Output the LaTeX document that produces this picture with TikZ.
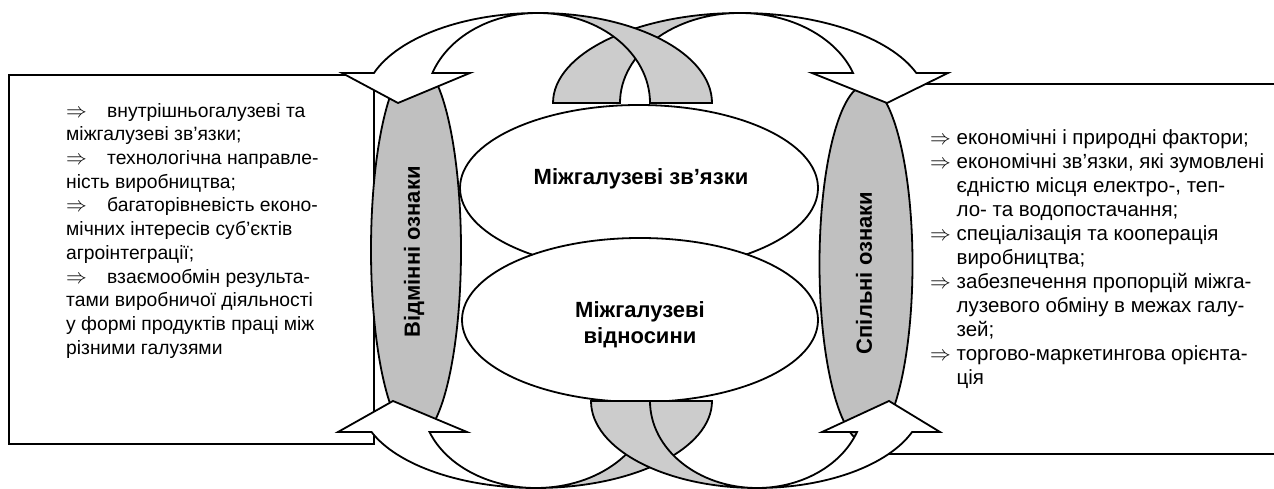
\documentclass[tikz,border=0pt]{standalone}
\usepackage{fontspec}
\setmainfont{Liberation Sans}
\usetikzlibrary{shapes.geometric}
\definecolor{ellgray}{RGB}{192,192,192}
\definecolor{bandgray}{RGB}{204,204,204}
\newcommand{\arrowtab}{\makebox[41pt][l]{$\Rightarrow$}}
\newcommand{\hangtab}{\hphantom{$\Rightarrow$}\ }
\begin{document}
\begin{tikzpicture}[x=1pt,y=1pt,
  outline/.style={draw=black,line width=1.8pt,line join=miter},
  boxframe/.style={outline,fill=white,rectangle,inner sep=0pt},
  mainell/.style={outline,fill=white,ellipse,inner sep=0pt},
  sideell/.style={outline,fill=ellgray,ellipse,inner sep=0pt},
  backface/.style={outline,fill=bandgray},
  frontface/.style={outline,fill=white},
  bodytext/.style={inner sep=0pt,align=left,anchor=north west},
  boldtext/.style={font=\bfseries\fontsize{22}{26}\selectfont,inner sep=0pt,align=center}]
\useasboundingbox (0,0) rectangle (1274,489);

% frames
\node[boxframe,minimum width=365pt,minimum height=369pt,anchor=south west] (leftbox) at (8,44) {};
\node[boxframe,minimum width=434pt,minimum height=370pt,anchor=south west] (rightbox) at (866,34) {};

% central ellipses
\node[mainell,minimum width=358pt,minimum height=166pt] (links) at (639,301) {};
\node[mainell,minimum width=356pt,minimum height=164pt] (rel) at (640,169) {};

% side ellipses
\node[sideell,minimum width=90pt,minimum height=376pt] (dist) at (416,239) {};
\node[sideell,minimum width=93pt,minimum height=358pt] (common) at (866,225) {};

% back faces (top: B under A; bottom: C under D)
\path[backface] (553,386) arc[start angle=180,end angle=90,x radius=187,y radius=90]
   arc[start angle=90,end angle=180,x radius=120,y radius=90] -- cycle;
\path[backface] (712,386) arc[start angle=0,end angle=90,x radius=174,y radius=90]
   arc[start angle=90,end angle=0,x radius=112,y radius=90] -- cycle;
\path[backface] (712,88) arc[start angle=0,end angle=-90,x radius=176,y radius=87]
   arc[start angle=-90,end angle=0,x radius=114,y radius=87] -- cycle;
\path[backface] (591,88) arc[start angle=180,end angle=270,x radius=166,y radius=87]
   arc[start angle=270,end angle=180,x radius=107,y radius=87] -- cycle;

% front faces with heads
\path[frontface] (538,476) arc[start angle=90,end angle=160.53,x radius=174,y radius=90]
   -- (342,416) -- (398,386) -- (470,416) -- (432.4,416)
   arc[start angle=160.53,end angle=90,x radius=112,y radius=90] -- cycle;
\path[frontface] (740,476) arc[start angle=90,end angle=19.47,x radius=187,y radius=90]
   -- (948,416) -- (887,386) -- (812,416) -- (853.1,416)
   arc[start angle=19.47,end angle=90,x radius=120,y radius=90] -- cycle;
\path[frontface] (536,1) arc[start angle=270,end angle=200.87,x radius=176,y radius=87]
   -- (338,57) -- (393,88) -- (467,57) -- (429.5,57)
   arc[start angle=200.87,end angle=270,x radius=114,y radius=87] -- cycle;
\path[frontface] (757,1) arc[start angle=-90,end angle=-20.87,x radius=166,y radius=87]
   -- (940,57) -- (889,88) -- (822,57) -- (857,57)
   arc[start angle=-20.87,end angle=-90,x radius=107,y radius=87] -- cycle;

% labels
\node[boldtext] (linkstext) at (641,310) {Міжгалузеві зв’язки};
\node[boldtext] (reltext) at (640,164) {Міжгалузеві\\відносини};
\node[boldtext,rotate=90] (disttext) at (414,237) {Відмінні ознаки};
\node[boldtext,rotate=90] (commontext) at (864,216) {Спільні ознаки};

\node[bodytext,font=\fontsize{19.3}{23.7}\selectfont] (lefttext) at (66,386) {%
\arrowtab внутрішньогалузеві та\\
міжгалузеві зв’язки;\\
\arrowtab технологічна направле-\\
ність виробництва;\\
\arrowtab багаторівневість еконо-\\
мічних інтересів суб’єктів\\
агроінтеграції;\\
\arrowtab взаємообмін результа-\\
тами виробничої діяльності\\
у формі продуктів праці між\\
різними галузями};

\node[bodytext,font=\fontsize{20.5}{24}\selectfont] (righttext) at (930,360) {%
$\Rightarrow$ економічні і природні фактори;\\
$\Rightarrow$ економічні зв’язки, які зумовлені\\
\hangtab єдністю місця електро-, теп-\\
\hangtab ло- та водопостачання;\\
$\Rightarrow$ спеціалізація та кооперація\\
\hangtab виробництва;\\
$\Rightarrow$ забезпечення пропорцій міжга-\\
\hangtab лузевого обміну в межах галу-\\
\hangtab зей;\\
$\Rightarrow$ торгово-маркетингова орієнта-\\
\hangtab ція};
\end{tikzpicture}
\end{document}
